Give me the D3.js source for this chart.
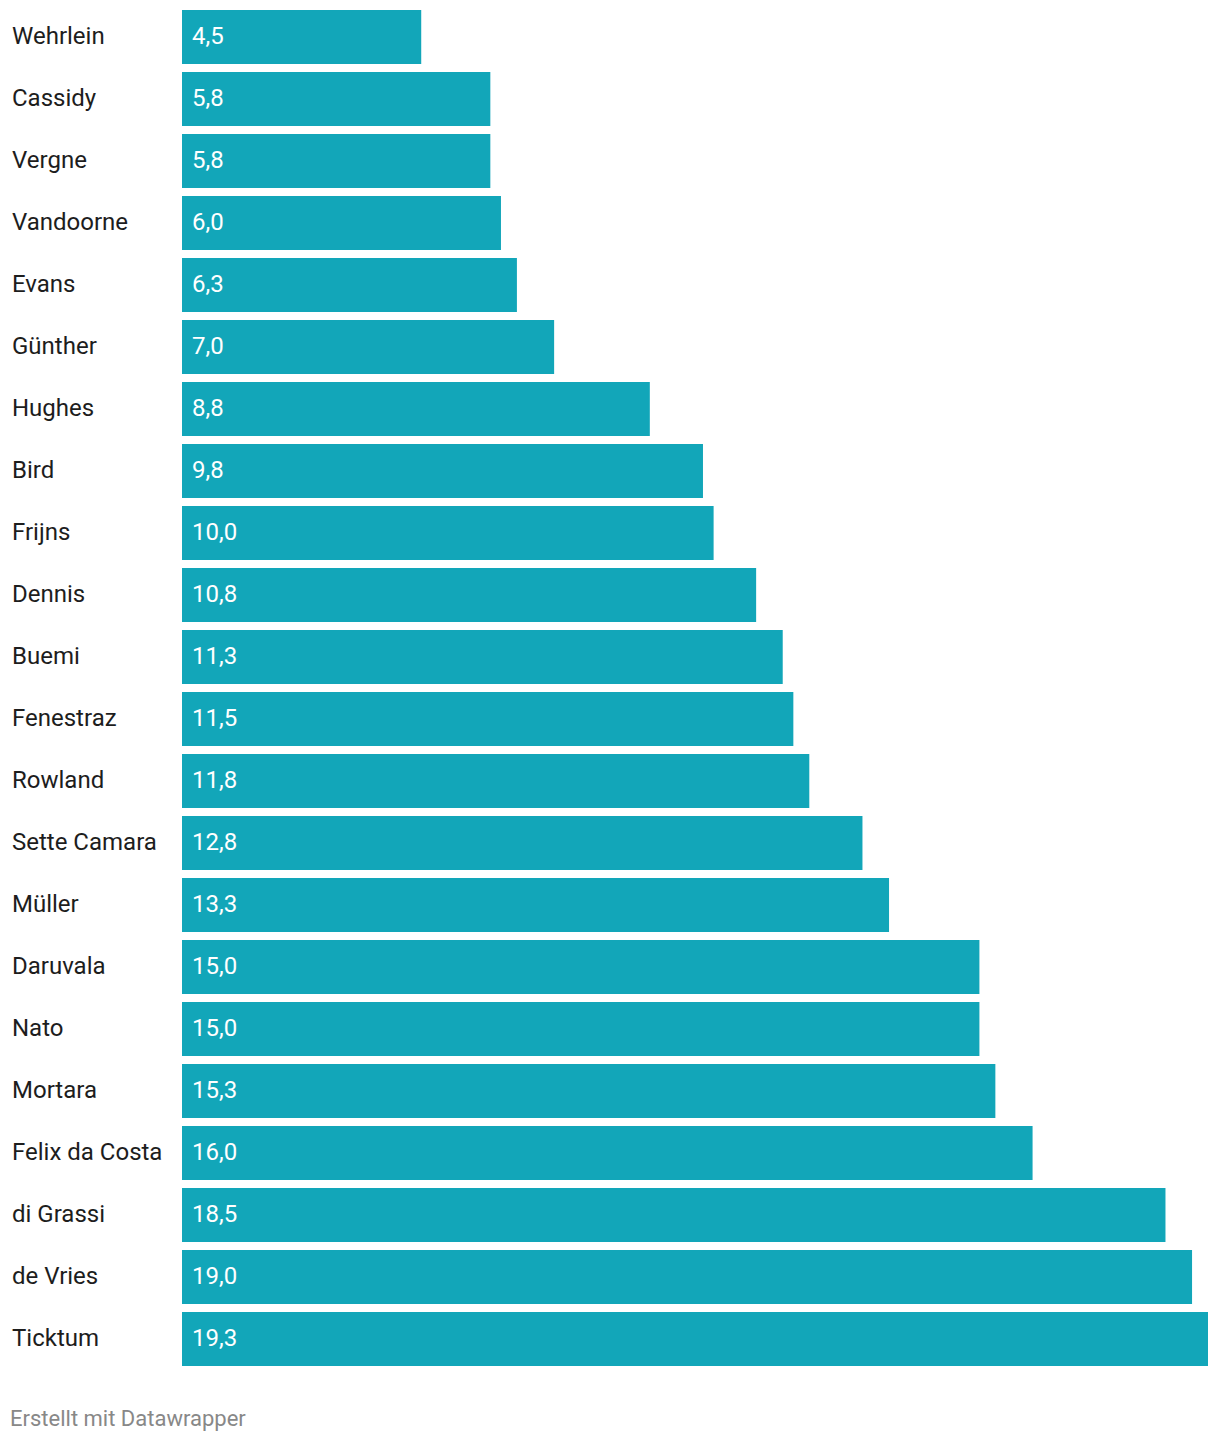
<!DOCTYPE html>
<html>
<head>
<meta charset="utf-8">
<script src="https://cdn.jsdelivr.net/npm/d3@7"></script>
<style>
  body { margin: 0; background: #fff; font-family: Roboto, "Noto Sans", sans-serif; }
  svg text { font-family: Roboto, "Noto Sans", sans-serif; }
</style>
</head>
<body>
<svg id="chart" width="1220" height="1442"></svg>
<script>
let drivers = ['Wehrlein', 'Cassidy', 'Vergne', 'Vandoorne', 'Evans', 'Günther', 'Hughes', 'Bird',
	'Frijns', 'Dennis', 'Buemi', 'Fenestraz', 'Rowland', 'Sette Camara', 'Müller', 'Daruvala',
	'Nato', 'Mortara', 'Felix da Costa', 'di Grassi', 'de Vries', 'Ticktum'];
let values = [4.5, 5.8, 5.8, 6.0, 6.3, 7.0, 8.8, 9.8, 10.0, 10.8, 11.3, 11.5, 11.8, 12.8, 13.3,
	15.0, 15.0, 15.3, 16.0, 18.5, 19.0, 19.3];
let footer = 'Erstellt mit Datawrapper';

let data = drivers.map((d, i) => ({ name: d, value: values[i] }));

let svg = d3.select('#chart');

let x = d3.scaleLinear()
	.domain([0, d3.max(values)])
	.range([182, 1208]);

let y = d3.scaleBand()
	.domain(drivers)
	.range([10, 1366])
	.paddingInner(8 / 62)
	.paddingOuter(0);

let fmt = v => v.toFixed(1).replace('.', ',');

// bars
svg.append('g')
	.selectAll('rect')
	.data(data)
	.enter()
	.append('rect')
	.attr('x', x(0))
	.attr('y', d => y(d.name))
	.attr('width', d => x(d.value) - x(0))
	.attr('height', y.bandwidth())
	.attr('fill', '#12a6b9');

// names
svg.append('g')
	.selectAll('text')
	.data(data)
	.enter()
	.append('text')
	.attr('x', 12)
	.attr('y', d => y(d.name) + y.bandwidth() / 2)
	.attr('dy', '0.31em')
	.attr('font-size', 24)
	.attr('fill', '#1d1d1d')
	.text(d => d.name);

// values
svg.append('g')
	.selectAll('text')
	.data(data)
	.enter()
	.append('text')
	.attr('x', x(0) + 10)
	.attr('y', d => y(d.name) + y.bandwidth() / 2)
	.attr('dy', '0.31em')
	.attr('font-size', 24)
	.attr('fill', '#fff')
	.text(d => fmt(d.value));

svg.append('text')
	.attr('x', 10)
	.attr('y', 1426)
	.attr('font-size', 22)
	.attr('fill', '#888')
	.text(footer);
</script>
</body>
</html>
